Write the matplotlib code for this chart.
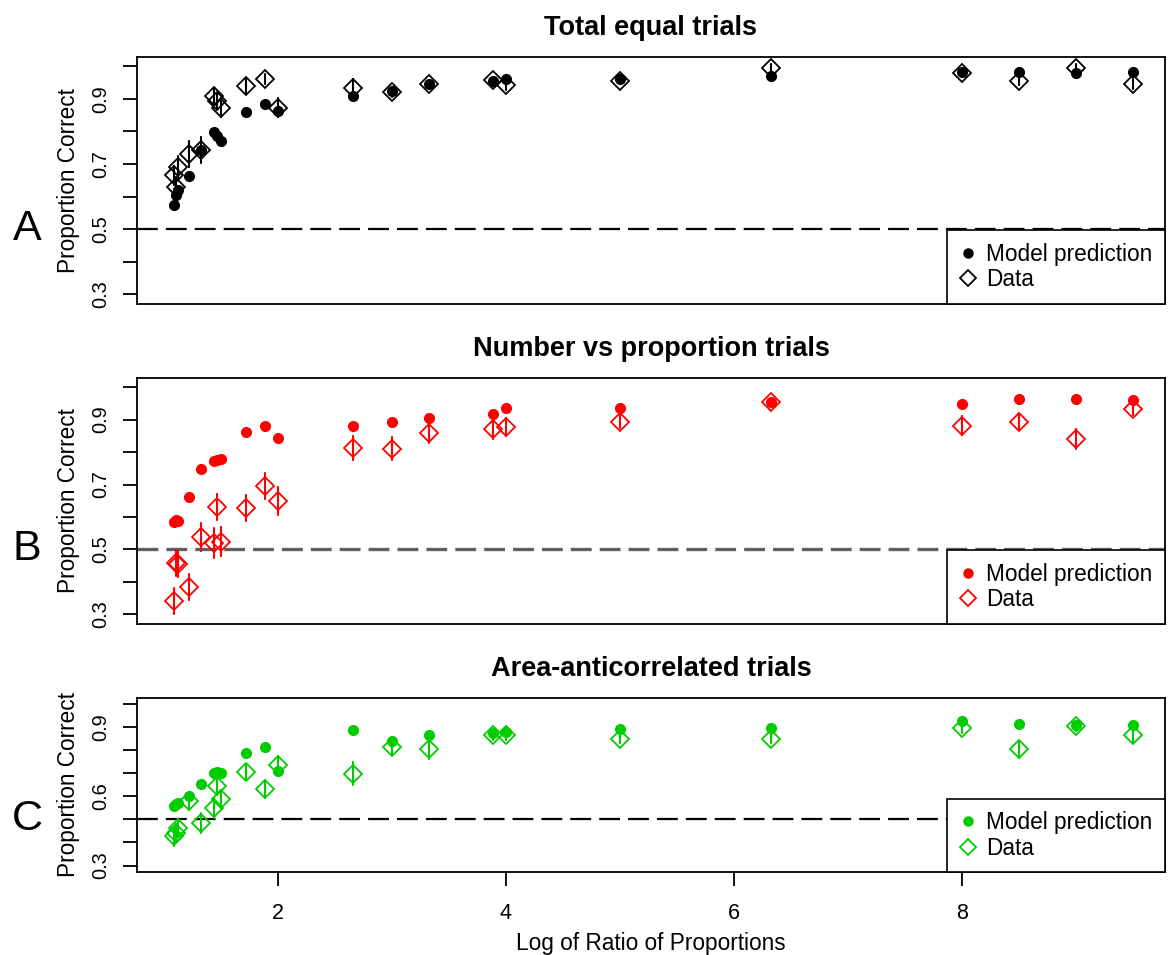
import matplotlib
matplotlib.use("Agg")
import matplotlib.pyplot as plt
from matplotlib.lines import Line2D
from matplotlib.transforms import blended_transform_factory

plt.rcParams['font.family'] = ['Liberation Sans', 'DejaVu Sans']

# ---------------- data ----------------
ratio = [1.09, 1.11, 1.13, 1.22, 1.33, 1.44, 1.47, 1.50, 1.72, 1.89, 2.00,
         2.66, 3.00, 3.33, 3.89, 4.00, 5.00, 6.33, 8.00, 8.50, 9.00, 9.50]

model_A = [0.573, 0.604, 0.620, 0.663, 0.743, 0.797, 0.785, 0.771, 0.858, 0.883, 0.863,
           0.909, 0.924, 0.946, 0.954, 0.962, 0.959, 0.970, 0.982, 0.982, 0.980, 0.982]
data_A = [0.665, 0.629, 0.690, 0.731, 0.743, 0.909, 0.893, 0.873, 0.939, 0.960, 0.873,
          0.934, 0.921, 0.946, 0.957, 0.941, 0.954, 0.995, 0.980, 0.954, 0.995, 0.946]
err_A = [0.030, 0.030, 0.035, 0.040, 0.040, 0.025, 0.025, 0.030, 0.020, 0.015, 0.030,
         0.025, 0.015, 0.010, 0.010, 0.015, 0.010, 0.010, 0.010, 0.012, 0.010, 0.015]

model_B = [0.585, 0.590, 0.588, 0.662, 0.749, 0.771, 0.775, 0.779, 0.863, 0.881, 0.843,
           0.881, 0.893, 0.905, 0.916, 0.937, 0.936, 0.954, 0.949, 0.962, 0.962, 0.959]
data_B = [0.340, 0.459, 0.455, 0.383, 0.538, 0.520, 0.631, 0.524, 0.627, 0.695, 0.648,
          0.812, 0.810, 0.860, 0.870, 0.876, 0.893, 0.954, 0.881, 0.893, 0.840, 0.934]
err_B = [0.040, 0.040, 0.040, 0.040, 0.043, 0.045, 0.040, 0.045, 0.040, 0.040, 0.043,
         0.037, 0.035, 0.033, 0.030, 0.028, 0.020, 0.010, 0.030, 0.025, 0.030, 0.020]

model_C = [0.556, 0.565, 0.573, 0.602, 0.653, 0.700, 0.705, 0.700, 0.786, 0.814, 0.710,
           0.888, 0.838, 0.864, 0.874, 0.878, 0.893, 0.898, 0.926, 0.915, 0.911, 0.908]
data_C = [0.426, 0.440, 0.462, 0.580, 0.484, 0.549, 0.646, 0.587, 0.704, 0.631, 0.735,
          0.698, 0.813, 0.803, 0.864, 0.864, 0.850, 0.850, 0.898, 0.803, 0.903, 0.865]
err_C = [0.040, 0.040, 0.040, 0.040, 0.045, 0.045, 0.040, 0.040, 0.035, 0.040, 0.040,
         0.050, 0.030, 0.040, 0.020, 0.020, 0.020, 0.020, 0.025, 0.035, 0.020, 0.030]

titles = ["Total equal trials", "Number vs proportion trials", "Area-anticorrelated trials"]
letters = ["A", "B", "C"]
colors = ["#000000", "#FF0000", "#00CD00"]
legend_labels = ["Model prediction", "Data"]
x_ticks = [2, 4, 6, 8]
y_ticks = [0.3, 0.4, 0.5, 0.6, 0.7, 0.8, 0.9, 1.0]
y_labels_AB = ["0.3", "", "0.5", "", "0.7", "", "0.9", ""]
y_labels_C = ["0.3", "", "", "0.6", "", "", "0.9", ""]
chance = 0.5

models = [model_A, model_B, model_C]
datas = [data_A, data_B, data_C]
errs = [err_A, err_B, err_C]
ylabels = [y_labels_AB, y_labels_AB, y_labels_C]

# ---------------- layout ----------------
W, H = 1168, 955
fig = plt.figure(figsize=(W / 100, H / 100), dpi=100)


def px_rect(left, top, right, bottom):
    return [left / W, 1 - bottom / H, (right - left) / W, (bottom - top) / H]


rects = [px_rect(137, 57, 1165, 303.5),
         px_rect(137, 378, 1165, 623.5),
         px_rect(137, 697.5, 1165, 872)]
dash_styles = [("#000000", 1.6), ("#606060", 2.4), ("#000000", 1.6)]

for i in range(3):
    ax = fig.add_axes(rects[i])
    col = colors[i]
    ax.set_xlim(0.766, 9.784)
    ax.set_ylim(0.272, 1.028)

    dcol, dlw = dash_styles[i]
    ax.axhline(chance, color=dcol, lw=dlw, ls=(0, (15 / dlw, 5.8 / dlw)), zorder=1)

    ax.plot(ratio, models[i], 'o', color=col, ms=7, mec=col, zorder=3)
    ax.errorbar(ratio, datas[i], yerr=errs[i], fmt='none', ecolor=col,
                elinewidth=1.5, capsize=0.8, capthick=1.2, zorder=4)
    ax.plot(ratio, datas[i], 'D', mfc='none', mec=col, mew=1.3, ms=9.3, zorder=5)

    for s in ax.spines.values():
        s.set_linewidth(1.3)

    ax.set_yticks(y_ticks)
    ax.set_yticklabels(ylabels[i], rotation=90, va='center', fontsize=14.4)
    ax.tick_params(axis='y', direction='out', length=10, width=1.3, pad=9)
    if i == 2:
        ax.set_xticks(x_ticks)
        ax.set_xticklabels([str(t) for t in x_ticks], fontsize=15.5)
        ax.tick_params(axis='x', direction='out', length=10, width=1.3, pad=12)
    else:
        ax.set_xticks([])

    ax.set_title(titles[i], fontsize=19.5, fontweight='bold', pad=15.5)

    # y-axis label and panel letter
    pos = ax.get_position()
    fig.text(69 / W, pos.y0 + pos.height / 2, "Proportion Correct", rotation=90,
             ha='center', va='center', fontsize=16.3)
    tr = blended_transform_factory(fig.transFigure, ax.transData)
    ax.text(27 / W, chance, letters[i], transform=tr, ha='center', va='center',
            fontsize=31)

    handles = [Line2D([], [], marker='o', ls='none', color=col, ms=6.5),
               Line2D([], [], marker='D', ls='none', mfc='none', mec=col, mew=1.3, ms=8)]
    leg = ax.legend(handles, legend_labels, loc='lower right', bbox_to_anchor=(1, 0),
                    borderaxespad=0, fontsize=16.3, frameon=True, fancybox=False,
                    framealpha=1, edgecolor='black', borderpad=0.55,
                    handlelength=0.8, handletextpad=0.4, labelspacing=0.1)
    leg.get_frame().set_linewidth(1.2)
    leg.set_zorder(10)

fig.text(651 / W, 1 - 950 / H, "Log of Ratio of Proportions", ha='center',
         va='baseline', fontsize=16.3)

fig.savefig("out.png", dpi=100)
